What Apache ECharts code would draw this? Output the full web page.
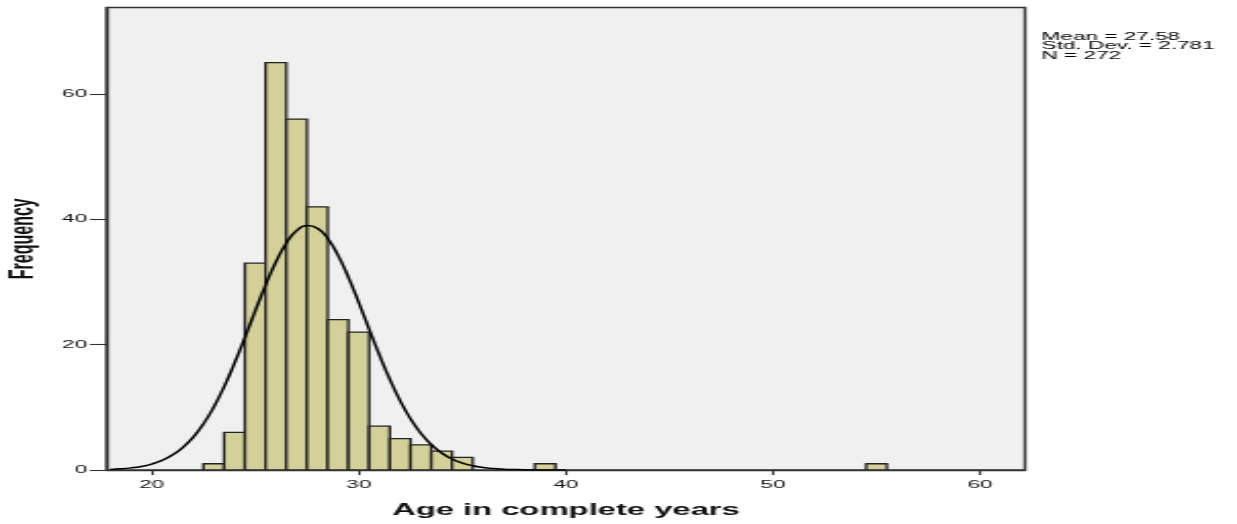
<!DOCTYPE html>
<html>
<head>
<meta charset="utf-8">
<script src="https://cdn.jsdelivr.net/npm/echarts@6/dist/echarts.min.js"></script>
<style>
  html, body { margin: 0; padding: 0; background: #ffffff; overflow: hidden; }
  #wrap { width: 1237px; height: 524px; overflow: hidden; }
  #chart { width: 604px; height: 524px; transform: scaleX(2.048); transform-origin: 0 0; }
</style>
</head>
<body>
<div id="wrap"><div id="chart"></div></div>
<script>
// Histogram bins (age in complete years, bin width 1) and frequencies
const ages   = [23, 24, 25, 26, 27, 28, 29, 30, 31, 32, 33, 34, 35, 39, 55];
const counts = [ 1,  6, 33, 65, 56, 42, 24, 22,  7,  5,  4,  3,  2,  1,  1];

// Fitted normal curve
const curveX = [18, 18.5, 19, 19.5, 20, 20.5, 21, 21.5, 22, 22.5, 23, 23.5, 24, 24.5, 25, 25.5, 26, 26.5, 27, 27.5,
                28, 28.5, 29, 29.5, 30, 30.5, 31, 31.5, 32, 32.5, 33, 33.5, 34, 34.5, 35, 35.5, 36, 36.5, 37, 37.5, 38, 39, 40];
const curveY = [0.10, 0.19, 0.34, 0.57, 0.95, 1.53, 2.38, 3.58, 5.21, 7.36, 10.06, 13.30, 17.04, 21.13, 25.38, 29.50, 33.21, 36.19, 38.18, 39.00,
                38.58, 36.94, 34.25, 30.75, 26.72, 22.49, 18.32, 14.45, 11.04, 8.16, 5.84, 4.05, 2.72, 1.76, 1.11, 0.68, 0.40, 0.23, 0.13, 0.07, 0.035, 0.01, 0];

const xTicks = [20, 30, 40, 50, 60];
const yTicks = [0, 20, 40, 60];
const statsLines = ['Mean = 27.58', 'Std. Dev. = 2.781', 'N = 272'];
const xTitle = 'Age in complete years';
const yTitle = 'Frequency';

const FONT = "'Liberation Sans', Arial, sans-serif";

const chart = echarts.init(document.getElementById('chart'), null, { renderer: 'canvas' });

const barData = ages.map((a, i) => [a, counts[i]]);
const curveData = curveX.map((x, i) => [x, curveY[i]]);

const statsTop = 31, statsStep = 9.6;
const statsGraphics = statsLines.map((t, i) => ({
  type: 'text', left: 508.6, top: statsTop + i * statsStep,
  style: { text: t, font: "11px 'Liberation Sans', Arial, sans-serif", fill: '#000' }
}));

chart.setOption({
  animation: false,
  backgroundColor: '#ffffff',
  grid: {
    left: 52.1, right: 103.5, top: 7.5, bottom: 54,
    show: true, backgroundColor: '#f0f0f0', borderColor: '#333333', borderWidth: 1.4,
    containLabel: false, outerBoundsMode: 'none'
  },
  xAxis: {
    type: 'value', min: 17.83, max: 62.17,
    name: xTitle, nameLocation: 'middle', nameGap: 33,
    nameTextStyle: { fontFamily: FONT, fontWeight: 'bold', fontSize: 16, color: '#111' },
    axisLine: { show: true, onZero: false, lineStyle: { color: '#333333', width: 1.4 } },
    axisTick: { show: true, inside: false, length: 5, customValues: xTicks, lineStyle: { color: '#333333', width: 1.1 } },
    axisLabel: { show: true, margin: 9, customValues: xTicks, fontFamily: FONT, fontSize: 11, color: '#111' },
    splitLine: { show: false }
  },
  yAxis: {
    type: 'value', min: 0, max: 73.8,
    name: yTitle, nameLocation: 'middle', nameGap: 32, nameRotate: 90,
    nameTextStyle: { fontFamily: FONT, fontWeight: 'bold', fontSize: 16, color: '#111' },
    axisLine: { show: true, lineStyle: { color: '#333333', width: 1.4 } },
    axisTick: { show: true, inside: false, length: 8.2, customValues: yTicks, lineStyle: { color: '#333333', width: 1.1 } },
    axisLabel: { show: true, margin: 9.5, customValues: yTicks, fontFamily: FONT, fontSize: 11, color: '#111' },
    splitLine: { show: false }
  },
  graphic: statsGraphics,
  series: [
    {
      type: 'custom',
      data: barData,
      clip: true,
      renderItem: function (params, api) {
        const x = api.value(0), y = api.value(1);
        const p0 = api.coord([x - 0.5, y]);
        const p1 = api.coord([x + 0.5, 0]);
        return {
          type: 'rect',
          shape: { x: p0[0], y: p0[1], width: p1[0] - p0[0], height: p1[1] - p0[1] },
          style: { fill: '#d4d09a', stroke: '#222222', lineWidth: 1.3 }
        };
      },
      z: 2
    },
    {
      type: 'line',
      data: curveData,
      smooth: true,
      symbol: 'none',
      lineStyle: { color: '#000', width: 1.5 },
      z: 3
    }
  ]
});
</script>
</body>
</html>
